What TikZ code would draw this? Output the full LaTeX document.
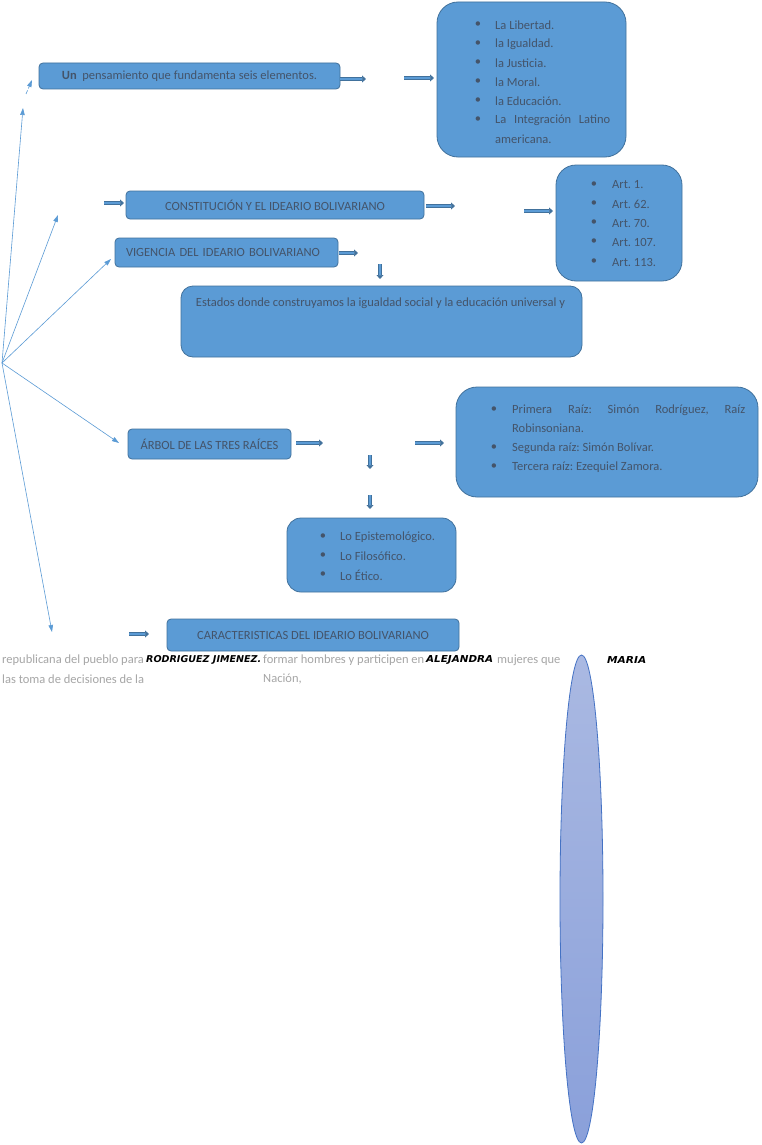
\documentclass[tikz,border=0pt]{standalone}
\usepackage{fontspec}
\setmainfont{Carlito}
\newfontfamily\decofont{DejaVu Sans}
\usetikzlibrary{arrows.meta,shapes.geometric}
\definecolor{boxfill}{HTML}{5B9BD5}
\definecolor{boxline}{HTML}{41719C}
\definecolor{boxtext}{HTML}{44546A}
\definecolor{hubline}{HTML}{5B9BD5}
\definecolor{blkcol}{HTML}{41719C}
\definecolor{graytext}{HTML}{A6A6A6}
\definecolor{elltop}{HTML}{AAB9E2}
\definecolor{ellbot}{HTML}{8AA0DA}
\definecolor{ellline}{HTML}{4472C4}
\newcommand{\deco}[2]{\resizebox{#1}{7pt}{\decofont\bfseries\itshape #2}}
\frenchspacing
\begin{document}
\begin{tikzpicture}[x=1pt,y=-1pt,
 every node/.style={font=\fontsize{12.5}{15}\selectfont\frenchspacing, inner sep=0pt},
 box/.style={draw=boxline, fill=boxfill, line width=0.8pt, rounded corners=4pt, text=boxtext},
 li/.style={text=boxtext, anchor=west},
 bul/.style={text=boxtext},
 blk/.style={draw=blkcol, line width=0.7pt, double=boxfill, double distance=1.8pt, -{Triangle[length=4pt,width=7pt]}},
 hub/.style={draw=hubline, line width=0.6pt, -{Triangle[length=7pt,width=4.5pt]}},
 gray/.style={text=graytext, anchor=west},
 dec/.style={anchor=west, text=black},
]
\useasboundingbox (0,0) rectangle (761,1145);
\fill[white] (0,0) rectangle (761,1145);

% ---- boxes
\node[box, minimum width=301pt, minimum height=26pt] (b1) at (189.5,76) {\textbf{Un}\ \ pensamiento que fundamenta seis elementos.};
\node[box, rounded corners=21pt, minimum width=189pt, minimum height=155pt] (l1) at (531.5,79.5) {};
\node[box, minimum width=298pt, minimum height=28pt] (cons) at (275,205) {CONSTITUCIÓN Y EL IDEARIO BOLIVARIANO};
\node[box, rounded corners=20pt, minimum width=126pt, minimum height=116pt] (art) at (619,223) {};
\node[box, minimum height=29pt, inner xsep=11pt, text width=201pt, align=left] (vig) at (226.5,252.5) {VIGENCIA DEL IDEARIO BOLIVARIANO};
\node[box, rounded corners=12pt, minimum width=401pt, minimum height=71pt] (est) at (381.5,321.5) {};
\node[text=boxtext] (estt) at (380.5,303) {Estados donde construyamos la igualdad social y la educación universal y};
\node[box, minimum width=163pt, minimum height=30pt] (arb) at (209.5,444) {ÁRBOL DE LAS TRES RAÍCES};
\node[box, rounded corners=21pt, minimum width=302pt, minimum height=110pt] (raiz) at (607,442) {};
\node[box, rounded corners=14pt, minimum width=169pt, minimum height=74pt] (lo) at (371.5,555) {};
\node[box, minimum width=292pt, minimum height=32pt] (car) at (313,635) {CARACTERISTICAS DEL IDEARIO BOLIVARIANO};

% ---- list 1
\foreach \yy/\tt [count=\i] in {25/La Libertad., 44/la Igualdad., 63/la Justicia., 82/la Moral., 101/la Educación.}{
  \node[bul] (l1b\i) at (478,\yy) {\textbullet};
  \node[li] (l1t\i) at (495,\yy) {\tt};
}
\node[bul] (l1b6) at (478,120) {\textbullet};
\node[li] (l1t6) at (495,120) {\makebox[115pt][s]{La\hfill Integración\hfill Latino}};
\node[li] (l1t7) at (495,139) {americana.};

% ---- articles
\foreach \yy/\tt [count=\i] in {185/Art. 1., 204/Art. 62., 223/Art. 70., 242/Art. 107., 262/Art. 113.}{
  \node[bul] (artb\i) at (594,\yy) {\textbullet};
  \node[li] (artt\i) at (612,\yy) {\tt};
}

% ---- raices
\node[bul] (rb1) at (494,410) {\textbullet};
\node[li] (rt1) at (512,410) {\makebox[233pt][s]{Primera\hfill Raíz:\hfill Simón\hfill Rodríguez,\hfill Raíz}};
\node[li] (rt2) at (512,428) {Robinsoniana.};
\node[bul] (rb3) at (494,448) {\textbullet};
\node[li] (rt3) at (512,448) {Segunda raíz: Simón Bolívar.};
\node[bul] (rb4) at (494,467) {\textbullet};
\node[li] (rt4) at (512,467) {Tercera raíz: Ezequiel Zamora.};

% ---- lo
\foreach \yy/\tt [count=\i] in {537/Lo Epistemológico., 556/Lo Filosófico., 575/Lo Ético.}{
  \node[bul] (lob\i) at (323,\yy) {\textbullet};
  \node[li] (lot\i) at (340,\yy) {\tt};
}

% ---- block arrows
\coordinate (a1s) at (340,79);  \coordinate (a1e) at (366,79);
\coordinate (a2s) at (404,78);  \coordinate (a2e) at (434,78);
\coordinate (c0s) at (104,203); \coordinate (c0e) at (124,203);
\coordinate (c1s) at (426,206); \coordinate (c1e) at (455,206);
\coordinate (c2s) at (524,211); \coordinate (c2e) at (553,211);
\coordinate (v1s) at (339,253); \coordinate (v1e) at (358,253);
\coordinate (v2s) at (380,264); \coordinate (v2e) at (380,279);
\coordinate (r1s) at (296,443); \coordinate (r1e) at (323,443);
\coordinate (r2s) at (415,443); \coordinate (r2e) at (444,443);
\coordinate (d1s) at (370,455); \coordinate (d1e) at (370,469);
\coordinate (d2s) at (370,495); \coordinate (d2e) at (370,509);
\coordinate (k0s) at (129,634); \coordinate (k0e) at (149,634);
\draw[blk] (a1s) -- (a1e);
\draw[blk] (a2s) -- (a2e);
\draw[blk] (c0s) -- (c0e);
\draw[blk] (c1s) -- (c1e);
\draw[blk] (c2s) -- (c2e);
\draw[blk] (v1s) -- (v1e);
\draw[blk] (v2s) -- (v2e);
\draw[blk] (r1s) -- (r1e);
\draw[blk] (r2s) -- (r2e);
\draw[blk] (d1s) -- (d1e);
\draw[blk] (d2s) -- (d2e);
\draw[blk] (k0s) -- (k0e);

% ---- hub lines
\coordinate (hubc) at (2,363);
\coordinate (h1) at (23,108);
\coordinate (h1a) at (26,94);
\coordinate (h1b) at (32,80);
\coordinate (h2) at (58,215);
\coordinate (h3) at (111,259);
\coordinate (h4) at (119,443);
\coordinate (h5) at (52,632);
\draw[hub] (hubc) -- (h1);
\draw[hub, dash pattern=on 4pt off 2pt] (h1a) -- (h1b);
\draw[hub] (hubc) -- (h2);
\draw[hub] (hubc) -- (h3);
\draw[hub] (hubc) -- (h4);
\draw[hub] (hubc) -- (h5);

% ---- bottom text
\node[gray] (g1) at (2,660) {republicana del pueblo para};
\node[gray] (g2) at (2,679) {las toma de decisiones de la};
\node[gray] (g3) at (263,660) {formar hombres y participen en};
\node[gray] (g4) at (263,679) {Nación,};
\node[gray] (g5) at (497,660) {mujeres que};
\node[dec] (n1) at (146,660) {\deco{115pt}{RODRIGUEZ JIMENEZ.}};
\node[dec] (n2) at (426,660) {\deco{67pt}{ALEJANDRA}};
\node[dec] (n3) at (607,660) {\deco{39pt}{MARIA}};

% ---- ellipse
\node[ellipse, draw=ellline, line width=0.8pt, top color=elltop, bottom color=ellbot, minimum width=43pt, minimum height=488pt] (ell) at (581.5,899) {};
\end{tikzpicture}
\end{document}
